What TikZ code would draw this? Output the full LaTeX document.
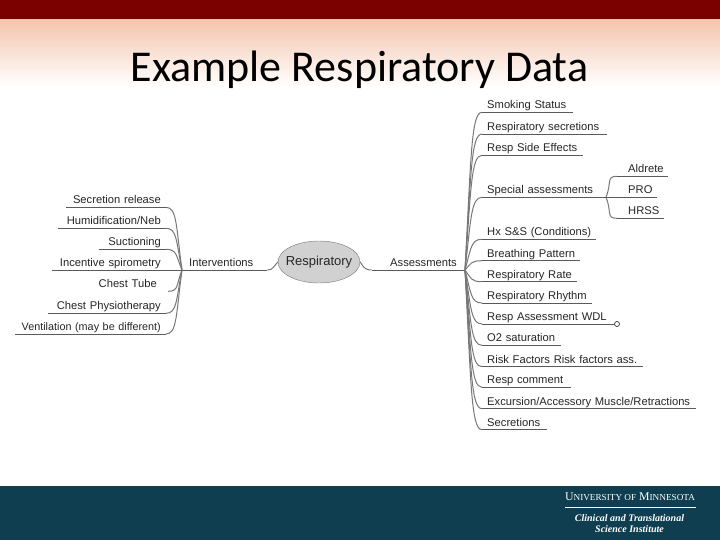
\documentclass[tikz,border=0pt]{standalone}
\usepackage{fontspec}
\setmainfont{Liberation Sans}
\newfontfamily\titlefont{Carlito}
\newfontfamily\logofont{Liberation Serif}
\usetikzlibrary{calc,shapes.geometric}
\definecolor{maroonband}{RGB}{123,0,0}
\definecolor{peachfade}{RGB}{244,196,172}
\definecolor{tealband}{RGB}{14,62,80}
\definecolor{branchgray}{RGB}{120,120,120}
\definecolor{linegray}{RGB}{90,90,90}
\newcommand\logosmall[1]{{\fontsize{9.2}{10}\selectfont #1}}
\tikzset{
  leaftext/.style={font=\fontsize{11.2}{13}\selectfont,text=black!85,inner xsep=5pt,inner ysep=0.5pt,text height=9.5pt,text depth=3pt},
  leafr/.style={leaftext,anchor=south west,align=left,text width=#1},
  leafl/.style={leaftext,anchor=south east,align=right,text width=#1},
  subleaf/.style={leafr=#1,inner xsep=4.5pt,execute at begin node=\hspace*{6.5pt}},
  sweep/.style={to path={.. controls ($(\tikztostart)!0.7!(\tikztostart|-\tikztotarget)+(#1*6,0)$) and ($(\tikztotarget)+(#1*-11,0)$) .. (\tikztotarget)}},
  branch/.style={draw=branchgray,line width=1pt},
  underline/.style={draw=linegray,line width=0.7pt},
}
\begin{document}
\begin{tikzpicture}[x=1pt,y=-1pt]
  \useasboundingbox (0,0) rectangle (720,540);
  % slide background
  \fill[white] (0,0) rectangle (720,540);
  \shade[top color=peachfade,bottom color=white] (0,19) rectangle (720,86);
  \fill[maroonband] (0,0) rectangle (720,19);
  \fill[tealband] (0,486) rectangle (720,540);
  \node[font=\titlefont\fontsize{44}{52}\selectfont,anchor=base] (slidetitle) at (359.5,82) {Example Respiratory Data};
  % logo
  \node[font=\logofont\fontsize{11.8}{13}\selectfont,text=white,anchor=base] (umn) at (630,500) {U\logosmall{NIVERSITY OF} M\logosmall{INNESOTA}};
  \coordinate (logoa) at (565,507);
  \coordinate (logob) at (696,507);
  \draw[white,line width=0.6pt] (logoa) -- (logob);
  \node[font=\logofont\itshape\bfseries\fontsize{10}{11}\selectfont,text=white,align=center] (ctsi) at (629.5,524) {Clinical and Translational\\Science Institute};
  % centre
  \node[ellipse,draw=branchgray,fill=black!18,minimum width=82pt,minimum height=42pt,inner sep=-12pt,font=\fontsize{13}{15}\selectfont,text=black!85] (resp) at (319,262) {Respiratory};
  \coordinate (hubl) at (182,270);
  \coordinate (hubr) at (465,270);
  \coordinate (hubs) at (606,197.3);
  \node[leaftext,anchor=south west,align=left,text width=71pt,inner xsep=7pt] (interv) at (hubl) {Interventions};
  \node[leaftext,anchor=south east,align=right,text width=77pt,inner xsep=8pt] (assess) at (hubr) {Assessments};
  \draw[branch] (resp.west) .. controls (274,266) and (273,270) .. (interv.south east);
  \draw[underline] (interv.south east) -- (hubl);
  \draw[branch] (resp.east) .. controls (363,266) and (364,270) .. (assess.south west);
  \draw[underline] (assess.south west) -- (hubr);
  % left side
  \node[leafl=90pt] (release) at (166,207.3) {Secretion release};
  \node[leafl=98pt] (humid) at (166,228.3) {Humidification/Neb};
  \node[leafl=57pt] (suction) at (166,249.3) {Suctioning};
  \node[leafl=104pt] (incent) at (166,270) {Incentive spirometry};
  \node[leafl=66pt,inner xsep=11pt] (tube) at (168,291.3) {Chest Tube};
  \node[leafl=108pt] (physio) at (166,313.3) {Chest Physiotherapy};
  \node[leafl=141pt,font=\fontsize{10.8}{13}\selectfont] (vent) at (166,334) {Ventilation (may be different)};
  \draw[branch] (hubl) to[sweep=-1] (release.south east);
  \draw[branch] (hubl) to[sweep=-1] (humid.south east);
  \draw[branch] (hubl) to[sweep=-1] (suction.south east);
  \draw[branch] (hubl) to[sweep=-1] (tube.south east);
  \draw[branch] (hubl) to[sweep=-1] (physio.south east);
  \draw[branch] (hubl) to[sweep=-1] (vent.south east);
  \draw[underline] (release.south east) -- (release.south west);
  \draw[underline] (humid.south east) -- (humid.south west);
  \draw[underline] (suction.south east) -- (suction.south west);
  \draw[underline] (hubl) -- (incent.south west);
  \draw[underline] (physio.south east) -- (physio.south west);
  \draw[underline] (vent.south east) -- (vent.south west);
  % right side
  \node[leafr=81pt] (smoking) at (482,112.3) {Smoking Status};
  \node[leafr=115pt] (secret) at (482,134) {Respiratory secretions};
  \node[leafr=91pt] (side) at (482,155.3) {Resp Side Effects};
  \node[leafr=114pt] (special) at (482,197.3) {Special assessments};
  \node[leafr=104pt] (hx) at (482,239.3) {Hx S\&S (Conditions)};
  \node[leafr=88pt] (breath) at (482,260.7) {Breathing Pattern};
  \node[leafr=85pt] (rate) at (482,281.7) {Respiratory Rate};
  \node[leafr=100pt] (rhythm) at (482,303) {Respiratory Rhythm};
  \node[leafr=121pt] (wdl) at (482,324) {Resp Assessment WDL};
  \node[leafr=69pt] (sat) at (482,345.3) {O2 saturation};
  \node[leafr=151pt] (risk) at (482,366.7) {Risk Factors Risk factors ass.};
  \node[leafr=79pt] (comment) at (482,387.3) {Resp comment};
  \node[leafr=204pt] (excur) at (482,408.7) {Excursion/Accessory Muscle/Retractions};
  \node[leafr=55pt] (secs) at (482,429.7) {Secretions};
  \draw[branch] (hubr) to[sweep=1] (smoking.south west);
  \draw[branch] (hubr) to[sweep=1] (secret.south west);
  \draw[branch] (hubr) to[sweep=1] (side.south west);
  \draw[branch] (hubr) to[sweep=1] (special.south west);
  \draw[branch] (hubr) to[sweep=1] (hx.south west);
  \draw[branch] (hubr) to[sweep=1] (breath.south west);
  \draw[branch] (hubr) to[sweep=1] (rate.south west);
  \draw[branch] (hubr) to[sweep=1] (rhythm.south west);
  \draw[branch] (hubr) to[sweep=1] (wdl.south west);
  \draw[branch] (hubr) to[sweep=1] (sat.south west);
  \draw[branch] (hubr) to[sweep=1] (risk.south west);
  \draw[branch] (hubr) to[sweep=1] (comment.south west);
  \draw[branch] (hubr) to[sweep=1] (excur.south west);
  \draw[branch] (hubr) to[sweep=1] (secs.south west);
  \draw[underline] (smoking.south west) -- (smoking.south east);
  \draw[underline] (secret.south west) -- (secret.south east);
  \draw[underline] (side.south west) -- (side.south east);
  \draw[underline] (special.south west) -- (special.south east);
  \draw[underline] (hx.south west) -- (hx.south east);
  \draw[underline] (breath.south west) -- (breath.south east);
  \draw[underline] (rate.south west) -- (rate.south east);
  \draw[underline] (rhythm.south west) -- (rhythm.south east);
  \draw[underline] (wdl.south west) -- (wdl.south east);
  \draw[underline] (sat.south west) -- (sat.south east);
  \draw[underline] (risk.south west) -- (risk.south east);
  \draw[underline] (comment.south west) -- (comment.south east);
  \draw[underline] (excur.south west) -- (excur.south east);
  \draw[underline] (secs.south west) -- (secs.south east);
  \node[circle,draw=black!80,line width=0.7pt,inner sep=0pt,minimum size=5pt] (knob) at (617,324) {};
  \draw[underline] (wdl.south east) -- (knob);
  % special assessments
  \node[subleaf=42pt] (aldrete) at (617,176.3) {Aldrete};
  \node[subleaf=31pt] (pro) at (617,197.3) {PRO};
  \node[subleaf=38pt] (hrss) at (617,218.3) {HRSS};
  \draw[branch] (hubs) to[sweep=1] (aldrete.south west);
  \draw[branch] (hubs) to[sweep=1] (hrss.south west);
  \draw[underline] (aldrete.south west) -- (aldrete.south east);
  \draw[underline] (hubs) -- (pro.south east);
  \draw[underline] (hrss.south west) -- (hrss.south east);
\end{tikzpicture}
\end{document}
